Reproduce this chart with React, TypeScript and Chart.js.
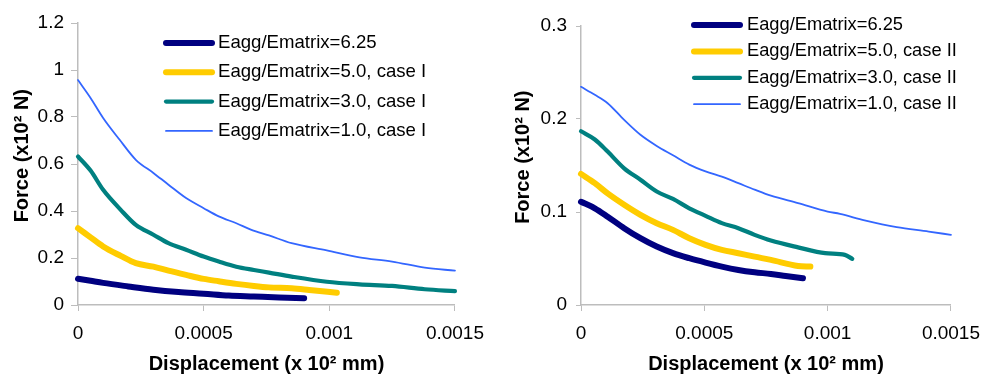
import React, { useEffect, useRef } from 'react';
import { Chart, registerables } from 'chart.js';

Chart.register(...registerables);

const FONT = '"Liberation Sans", Arial, Helvetica, sans-serif';

// ---------- tick values ----------
const xTickValues = [0, 0.0005, 0.001, 0.0015];
const leftYTickValues = [0, 0.2, 0.4, 0.6, 0.8, 1, 1.2];
const rightYTickValues = [0, 0.1, 0.2, 0.3];

// ---------- labels ----------
const leftSeriesLabels = [
  'Eagg/Ematrix=6.25',
  'Eagg/Ematrix=5.0, case I',
  'Eagg/Ematrix=3.0, case I',
  'Eagg/Ematrix=1.0, case I',
];
const rightSeriesLabels = [
  'Eagg/Ematrix=6.25',
  'Eagg/Ematrix=5.0, case II',
  'Eagg/Ematrix=3.0, case II',
  'Eagg/Ematrix=1.0, case II',
];
const xAxisTitle = 'Displacement (x 10\u00B2 mm)';
// leading spaces nudge the rotated, centred title slightly upwards as in the source
const yAxisTitle = '   Force (x10\u00B2 N)';

// ---------- left chart (case I) ----------
const left625X = [0, 0.00005, 0.0001, 0.0002, 0.0003, 0.0004, 0.0005, 0.0006, 0.0007, 0.0008, 0.0009];
const left625Y = [0.112, 0.103, 0.094, 0.079, 0.065, 0.055, 0.048, 0.04, 0.036, 0.032, 0.029];

const left50X = [0, 0.00005, 0.0001, 0.00017, 0.00023, 0.0003, 0.00036, 0.00043, 0.0005, 0.00056, 0.00063, 0.0007, 0.00076, 0.00085, 0.00092, 0.00103];
const left50Y = [0.327, 0.288, 0.249, 0.209, 0.178, 0.163, 0.146, 0.128, 0.111, 0.101, 0.09, 0.081, 0.075, 0.071, 0.064, 0.052];

const left30X = [0, 0.00005, 0.0001, 0.00017, 0.00023, 0.0003, 0.00036, 0.00043, 0.0005, 0.00056, 0.00063, 0.0007, 0.00076, 0.00085, 0.00099, 0.00112, 0.00125, 0.00138, 0.0015];
const left30Y = [0.632, 0.572, 0.49, 0.405, 0.341, 0.299, 0.263, 0.235, 0.206, 0.185, 0.163, 0.149, 0.138, 0.121, 0.099, 0.088, 0.081, 0.067, 0.059];

const left10X = [0, 0.00005, 0.0001, 0.000165, 0.00023, 0.0003, 0.00036, 0.00043, 0.0005, 0.00056, 0.00063, 0.00069, 0.00076, 0.00085, 0.00099, 0.00112, 0.00125, 0.00138, 0.0015];
const left10Y = [0.957, 0.881, 0.796, 0.704, 0.618, 0.562, 0.512, 0.455, 0.412, 0.377, 0.348, 0.32, 0.296, 0.263, 0.232, 0.203, 0.185, 0.159, 0.146];

// ---------- right chart (case II) ----------
const right625X = [0, 0.000056, 0.000108, 0.000175, 0.000241, 0.000307, 0.000373, 0.000439, 0.000505, 0.000571, 0.000638, 0.000704, 0.00077, 0.00083, 0.0009];
const right625Y = [0.111, 0.104, 0.095, 0.0826, 0.0718, 0.0628, 0.0557, 0.0503, 0.0456, 0.0413, 0.0377, 0.0352, 0.0334, 0.0312, 0.0287];

const right50X = [0, 0.000056, 0.000108, 0.000175, 0.000241, 0.000307, 0.000373, 0.000439, 0.000505, 0.000571, 0.000638, 0.000704, 0.00077, 0.00088, 0.00093];
const right50Y = [0.141, 0.131, 0.12, 0.1078, 0.097, 0.088, 0.0808, 0.0718, 0.0647, 0.0593, 0.0557, 0.052, 0.0485, 0.042, 0.0413];

const right30X = [0, 0.000056, 0.000108, 0.000175, 0.000241, 0.000307, 0.000373, 0.000439, 0.000505, 0.000571, 0.000638, 0.000704, 0.00077, 0.00088, 0.00099, 0.00107, 0.0011];
const right30Y = [0.1868, 0.178, 0.165, 0.147, 0.1347, 0.122, 0.114, 0.104, 0.0959, 0.088, 0.0826, 0.0754, 0.0693, 0.062, 0.0557, 0.0539, 0.0496];

const right10X = [0, 0.000056, 0.000108, 0.000175, 0.000241, 0.000307, 0.000373, 0.000439, 0.000505, 0.000571, 0.000638, 0.000704, 0.00077, 0.00088, 0.001, 0.00105, 0.00115, 0.00128, 0.00141, 0.0015];
const right10Y = [0.2346, 0.226, 0.217, 0.199, 0.183, 0.171, 0.161, 0.151, 0.1437, 0.138, 0.131, 0.124, 0.1175, 0.1096, 0.1005, 0.098, 0.091, 0.0837, 0.079, 0.0754];

// ---------- styles ----------
const seriesColors = ['#000080', '#FFCC00', '#008080', '#3366FF'];
const seriesWidths = [6, 6, 4.2, 1.8];
const AXIS_GRAY = '#bdbdbd';

type Pt = { x: number; y: number };
const toPoints = (xs: number[], ys: number[]): Pt[] => xs.map((x, i) => ({ x, y: ys[i] }));

const inlineLegend = {
  id: 'inlineLegend',
  afterDatasetsDraw(chart: any, _args: any, opts: any) {
    const ctx = chart.ctx as CanvasRenderingContext2D;
    ctx.save();
    chart.data.datasets.forEach((ds: any, i: number) => {
      const y = opts.y + i * opts.gap;
      ctx.strokeStyle = ds.borderColor;
      ctx.lineWidth = ds.borderWidth;
      ctx.lineCap = 'round';
      ctx.beginPath();
      ctx.moveTo(opts.x, y);
      ctx.lineTo(opts.x + opts.len, y);
      ctx.stroke();
      ctx.fillStyle = '#000';
      ctx.font = `${opts.size}px ${FONT}`;
      ctx.textBaseline = 'middle';
      ctx.textAlign = 'left';
      ctx.fillText(ds.label, opts.x + opts.len + opts.textGap, y);
    });
    ctx.restore();
  },
};

type Geom = {
  left: number;
  width: number;
  yScaleWidth: number;
  padTop: number;
  padRight: number;
  yTickLen: number;
  yTickPad: number;
  yTitlePad: number;
  legend: { x: number; y: number; gap: number; len: number; textGap: number; size: number };
};

const fmt = (v: number) => String(parseFloat(Number(v).toFixed(6)));

function ForceChart(props: {
  labels: string[];
  xs: number[][];
  ys: number[][];
  yTicks: number[];
  geom: Geom;
}) {
  const ref = useRef<HTMLCanvasElement>(null);
  const { labels, xs, ys, yTicks, geom } = props;

  useEffect(() => {
    const canvas = ref.current!;
    const chart = new Chart(canvas, {
      type: 'line',
      data: {
        datasets: labels.map((label, i) => ({
          label,
          data: toPoints(xs[i], ys[i]),
          borderColor: seriesColors[i],
          backgroundColor: seriesColors[i],
          borderWidth: seriesWidths[i],
          borderCapStyle: 'round',
          borderJoinStyle: 'round',
          pointRadius: 0,
          pointHoverRadius: 0,
          cubicInterpolationMode: 'monotone',
          fill: false,
          clip: false as any,
        })),
      },
      options: {
        responsive: false,
        animation: false,
        devicePixelRatio: 1,
        events: [],
        layout: { padding: { top: geom.padTop, right: geom.padRight, left: 0, bottom: 0 } },
        plugins: {
          legend: { display: false },
          tooltip: { enabled: false },
          inlineLegend: geom.legend,
        } as any,
        scales: {
          x: {
            type: 'linear',
            min: xTickValues[0],
            max: xTickValues[xTickValues.length - 1],
            afterBuildTicks: (s: any) => {
              s.ticks = xTickValues.map((v) => ({ value: v }));
            },
            afterFit: (s: any) => {
              s.height = 69;
            },
            grid: { drawOnChartArea: false, drawTicks: true, tickLength: 6, color: AXIS_GRAY, lineWidth: 1 },
            border: { display: true, color: AXIS_GRAY, width: 1.5 },
            ticks: {
              color: '#000',
              padding: 11,
              maxRotation: 0,
              autoSkip: false,
              font: { family: FONT, size: 19 },
              callback: (v: any) => fmt(v),
            },
            title: {
              display: true,
              text: xAxisTitle,
              color: '#000',
              font: { family: FONT, size: 20, weight: 'bold', lineHeight: 1 },
              padding: { top: 0, bottom: 0 },
            },
          },
          y: {
            type: 'linear',
            min: yTicks[0],
            max: yTicks[yTicks.length - 1],
            afterBuildTicks: (s: any) => {
              s.ticks = yTicks.map((v) => ({ value: v }));
            },
            afterFit: (s: any) => {
              s.width = geom.yScaleWidth;
            },
            grid: { drawOnChartArea: false, drawTicks: true, tickLength: geom.yTickLen, color: AXIS_GRAY, lineWidth: 1 },
            border: { display: true, color: AXIS_GRAY, width: 1.5 },
            ticks: {
              color: '#000',
              padding: geom.yTickPad,
              autoSkip: false,
              font: { family: FONT, size: 19 },
              callback: (v: any) => fmt(v),
            },
            title: {
              display: true,
              text: yAxisTitle,
              color: '#000',
              font: { family: FONT, size: 20, weight: 'bold', lineHeight: 1 },
              padding: { top: geom.yTitlePad, bottom: 0 },
            },
          },
        },
      },
      plugins: [inlineLegend as any],
    } as any);
    return () => chart.destroy();
  }, []);

  return (
    <canvas
      ref={ref}
      width={geom.width}
      height={374}
      style={{ position: 'absolute', left: geom.left, top: 0, width: geom.width, height: 374 }}
    />
  );
}

const leftGeom: Geom = {
  left: 0,
  width: 495,
  yScaleWidth: 78,
  padTop: 23,
  padRight: 38,
  yTickLen: 7,
  yTickPad: 7,
  yTitlePad: 12,
  legend: { x: 166, y: 43, gap: 29.3, len: 46, textGap: 6, size: 18.6 },
};

const rightGeom: Geom = {
  left: 495,
  width: 496,
  yScaleWidth: 86,
  padTop: 26,
  padRight: 33,
  yTickLen: 5,
  yTickPad: 9,
  yTitlePad: 18,
  legend: { x: 694 - 495, y: 25, gap: 26.4, len: 46, textGap: 7, size: 18.3 },
};

export default function App() {
  return (
    <div style={{ position: 'absolute', left: 0, top: 0, width: 991, height: 374, background: '#fff' }}>
      <ForceChart
        labels={leftSeriesLabels}
        xs={[left625X, left50X, left30X, left10X]}
        ys={[left625Y, left50Y, left30Y, left10Y]}
        yTicks={leftYTickValues}
        geom={leftGeom}
      />
      <ForceChart
        labels={rightSeriesLabels}
        xs={[right625X, right50X, right30X, right10X]}
        ys={[right625Y, right50Y, right30Y, right10Y]}
        yTicks={rightYTickValues}
        geom={rightGeom}
      />
    </div>
  );
}
